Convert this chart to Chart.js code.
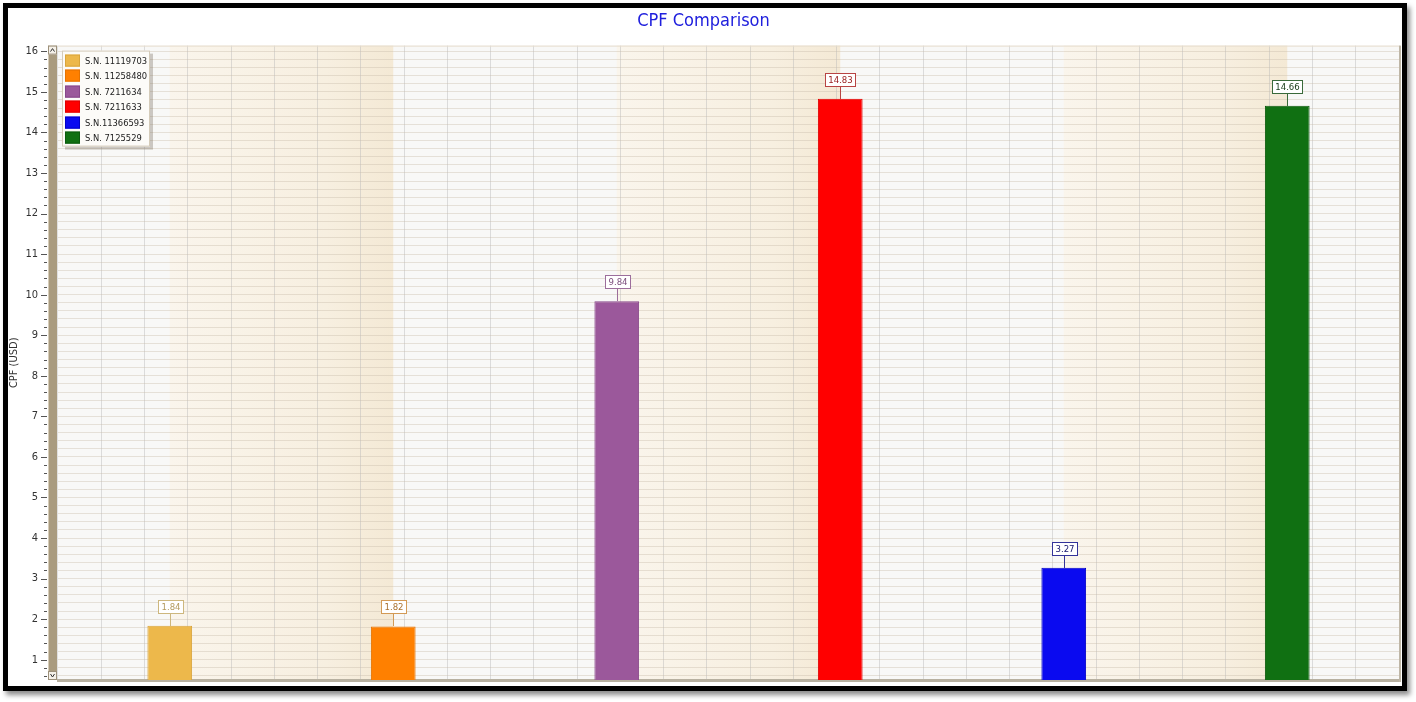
<!DOCTYPE html>
<html>
<head>
<meta charset="utf-8">
<title>CPF Comparison</title>
<script src="https://cdn.jsdelivr.net/npm/chart.js@4/dist/chart.umd.min.js"></script>
<style>
  html, body { margin: 0; padding: 0; background: #fff; }
  #frame {
    position: absolute; left: 3px; top: 3px;
    width: 1404px; height: 688px; box-sizing: border-box;
    border: 5px solid #000; background: #fff;
    box-shadow: 3px 4px 5px rgba(0, 0, 0, 0.45);
  }
  #wrap { position: relative; width: 1394px; height: 678px; }
</style>
</head>
<body>
<div id="frame"><div id="wrap"><canvas id="cpfChart"></canvas></div></div>
<script>
// chart data
var serialLabels = ['S.N. 11119703', 'S.N. 11258480', 'S.N. 7211634', 'S.N. 7211633', 'S.N.11366593', 'S.N. 7125529'];
var cpfValues = [1.84, 1.82, 9.84, 14.83, 3.27, 14.66];

// y axis range as shown (scrolled view)
var yMin = 0.5;
var yMax = 16.14;
var yStep = 0.2;

// styles
var barColors = ['#EDB84B', '#FF8000', '#9B589B', '#FF0000', '#0A0AF0', '#107012'];
var barEdges = ['#D9A53C', '#E67300', '#87478A', '#E00000', '#0000C8', '#0B5A0D'];
var tagBorders = ['#CDB77E', '#D39A55', '#9C6E9C', '#B84444', '#33339A', '#3A6A3A'];
var tagTexts = ['#B39A5E', '#A8702E', '#7B4D7C', '#9A2020', '#14146E', '#163A16'];

var FONT = "'DejaVu Sans Condensed', 'DejaVu Sans', sans-serif";

// one dataset per serial, so each gets its own legend colour
var datasets = serialLabels.map(function (name, i) {
    return {
        label: name,
        data: cpfValues.map(function (v, j) { return j === i ? v : null; }),
        backgroundColor: barColors[i],
        borderColor: barEdges[i],
        borderWidth: 1,
        borderSkipped: 'bottom'
    };
});

// plot background: alternating cream / white bands between bar centres
var bandPlugin = {
    id: 'bands',
    beforeDraw: function (chart) {
        var ctx = chart.ctx, a = chart.chartArea, xs = chart.scales.x;
        ctx.save();
        ctx.fillStyle = '#F8F8F7';
        ctx.fillRect(a.left, a.top, a.right - a.left, a.bottom - a.top);
        for (var i = 0; i + 1 < serialLabels.length; i += 2) {
            var x0 = xs.getPixelForValue(i), x1 = xs.getPixelForValue(i + 1);
            var g = ctx.createLinearGradient(x0, 0, x1, 0);
            g.addColorStop(0, '#FAF5EC');
            g.addColorStop(0.7, '#F7EFE0');
            g.addColorStop(1, '#F4E9D5');
            ctx.fillStyle = g;
            ctx.fillRect(x0, a.top, x1 - x0, a.bottom - a.top);
        }
        ctx.restore();
    }
};

// value tags above each bar
var tagPlugin = {
    id: 'valueTags',
    afterDatasetsDraw: function (chart) {
        var ctx = chart.ctx;
        ctx.save();
        ctx.font = '9.5px ' + FONT;
        ctx.lineWidth = 1;
        chart.data.datasets.forEach(function (ds, i) {
            var meta = chart.getDatasetMeta(i);
            meta.data.forEach(function (bar, j) {
                var v = ds.data[j];
                if (v == null) return;
                var text = v.toFixed(2);
                var w = Math.round(ctx.measureText(text).width) + 6;
                var h = 13;
                var x = Math.round(bar.x);
                var top = Math.round(bar.y);
                var boxBottom = top - 13;
                var left = Math.round(x - w / 2);
                ctx.strokeStyle = tagBorders[i];
                ctx.beginPath();
                ctx.moveTo(x + 0.5, top);
                ctx.lineTo(x + 0.5, boxBottom);
                ctx.stroke();
                ctx.fillStyle = '#FFFFFF';
                ctx.fillRect(left, boxBottom - h, w, h);
                ctx.strokeRect(left + 0.5, boxBottom - h + 0.5, w, h);
                ctx.fillStyle = tagTexts[i];
                ctx.textAlign = 'center';
                ctx.textBaseline = 'middle';
                ctx.fillText(text, left + w / 2 + 0.5, boxBottom - h / 2 + 1);
            });
        });
        ctx.restore();
    }
};

// legend box, scroll strip, tick marks and plot edges
var decorPlugin = {
    id: 'decor',
    afterDraw: function (chart) {
        var ctx = chart.ctx, a = chart.chartArea, ys = chart.scales.y;
        ctx.save();

        // top and right edges of plot
        ctx.fillStyle = '#E6DDCC';
        ctx.fillRect(a.left, a.top, a.right - a.left, 1);
        ctx.fillStyle = '#BEB6A6';
        ctx.fillRect(a.right, a.top, 2, a.bottom - a.top + 2);

        // scroll strip on the y axis
        var sx = a.left - 10, sw = 9;
        ctx.fillStyle = '#A99B7F';
        ctx.fillRect(sx, a.top, sw, a.bottom - a.top);
        ctx.fillStyle = '#D6CCB8';
        ctx.fillRect(sx, a.top, 1, a.bottom - a.top);
        [a.top, a.bottom - 9].forEach(function (by, k) {
            ctx.fillStyle = '#F5F1E9';
            ctx.fillRect(sx, by, sw, 9);
            ctx.strokeStyle = '#9C907A';
            ctx.strokeRect(sx + 0.5, by + 0.5, sw - 1, 8);
            ctx.strokeStyle = '#333';
            ctx.beginPath();
            if (k === 0) {
                ctx.moveTo(sx + 2.5, by + 6); ctx.lineTo(sx + 4.5, by + 3); ctx.lineTo(sx + 6.5, by + 6);
            } else {
                ctx.moveTo(sx + 2.5, by + 3); ctx.lineTo(sx + 4.5, by + 6); ctx.lineTo(sx + 6.5, by + 3);
            }
            ctx.stroke();
        });

        // tick marks left of the strip
        ctx.strokeStyle = '#555';
        ys.ticks.forEach(function (t) {
            var y = Math.round(ys.getPixelForValue(t.value)) + 0.5;
            var major = Math.abs(t.value - Math.round(t.value)) < 1e-6;
            ctx.beginPath();
            ctx.moveTo(sx - (major ? 7 : 4), y);
            ctx.lineTo(sx - 1, y);
            ctx.stroke();
        });

        // legend
        var lx = a.left + 4, ly = a.top + 5, lw = 88, lh = 96;
        ctx.fillStyle = 'rgba(120, 110, 95, 0.35)';
        ctx.fillRect(lx + 3, ly + 3, lw, lh);
        ctx.fillStyle = '#FCFBF8';
        ctx.fillRect(lx, ly, lw, lh);
        ctx.strokeStyle = '#D4CBB9';
        ctx.strokeRect(lx + 0.5, ly + 0.5, lw - 1, lh - 1);
        ctx.font = '9.3px ' + FONT;
        ctx.textAlign = 'left';
        ctx.textBaseline = 'middle';
        chart.data.datasets.forEach(function (ds, i) {
            var iy = ly + 4 + Math.round(i * 15.4);
            ctx.fillStyle = ds.backgroundColor;
            ctx.fillRect(lx + 3, iy, 15, 12);
            ctx.strokeStyle = ds.borderColor;
            ctx.strokeRect(lx + 3.5, iy + 0.5, 14, 11);
            ctx.fillStyle = '#222';
            ctx.fillText(ds.label, lx + 23, iy + 6.5);
        });
        ctx.restore();
    }
};

var ctxc = document.getElementById('cpfChart').getContext('2d');
var cpfChart = new Chart(ctxc, {
    type: 'bar',
    data: {
        labels: serialLabels,
        datasets: datasets
    },
    options: {
        responsive: true,
        maintainAspectRatio: false,
        animation: false,
        layout: { padding: { left: 0, right: 3, top: 0, bottom: 6 } },
        datasets: {
            bar: { grouped: false, barPercentage: 1, categoryPercentage: 0.2 }
        },
        plugins: {
            legend: { display: false },
            tooltip: { enabled: false },
            title: {
                display: true,
                text: 'CPF Comparison',
                color: '#2020DD',
                font: { family: FONT, size: 18, weight: 'normal' },
                padding: { top: 3, bottom: 13 }
            }
        },
        scales: {
            x: {
                type: 'category',
                ticks: { display: false },
                grid: { display: false, drawTicks: false },
                border: { display: true, color: '#B7B0A0', width: 3 }
            },
            xg: {
                type: 'linear',
                position: 'bottom',
                min: -0.5,
                max: 29.5,
                ticks: { display: false, stepSize: 1, includeBounds: false },
                grid: { color: 'rgba(185, 185, 185, 0.45)', drawTicks: false },
                border: { display: false }
            },
            y: {
                min: yMin,
                max: yMax,
                afterFit: function (scale) { scale.width = 50; },
                ticks: {
                    stepSize: yStep,
                    includeBounds: false,
                    autoSkip: false,
                    padding: 0,
                    color: '#333',
                    font: { family: FONT, size: 11, lineHeight: 1 },
                    callback: function (v) {
                        return Math.abs(v - Math.round(v)) < 1e-6 ? String(Math.round(v)) : '';
                    }
                },
                // invisible tick length keeps the labels clear of the scroll strip
                grid: { color: 'rgba(200, 188, 170, 0.4)', drawTicks: true, tickLength: 20, tickColor: 'rgba(0,0,0,0)' },
                border: { display: false },
                title: {
                    display: true,
                    text: 'CPF (USD)',
                    color: '#333',
                    font: { family: FONT, size: 11 },
                    padding: { top: 0, bottom: 0 }
                }
            }
        }
    },
    plugins: [bandPlugin, tagPlugin, decorPlugin]
});
</script>
</body>
</html>
